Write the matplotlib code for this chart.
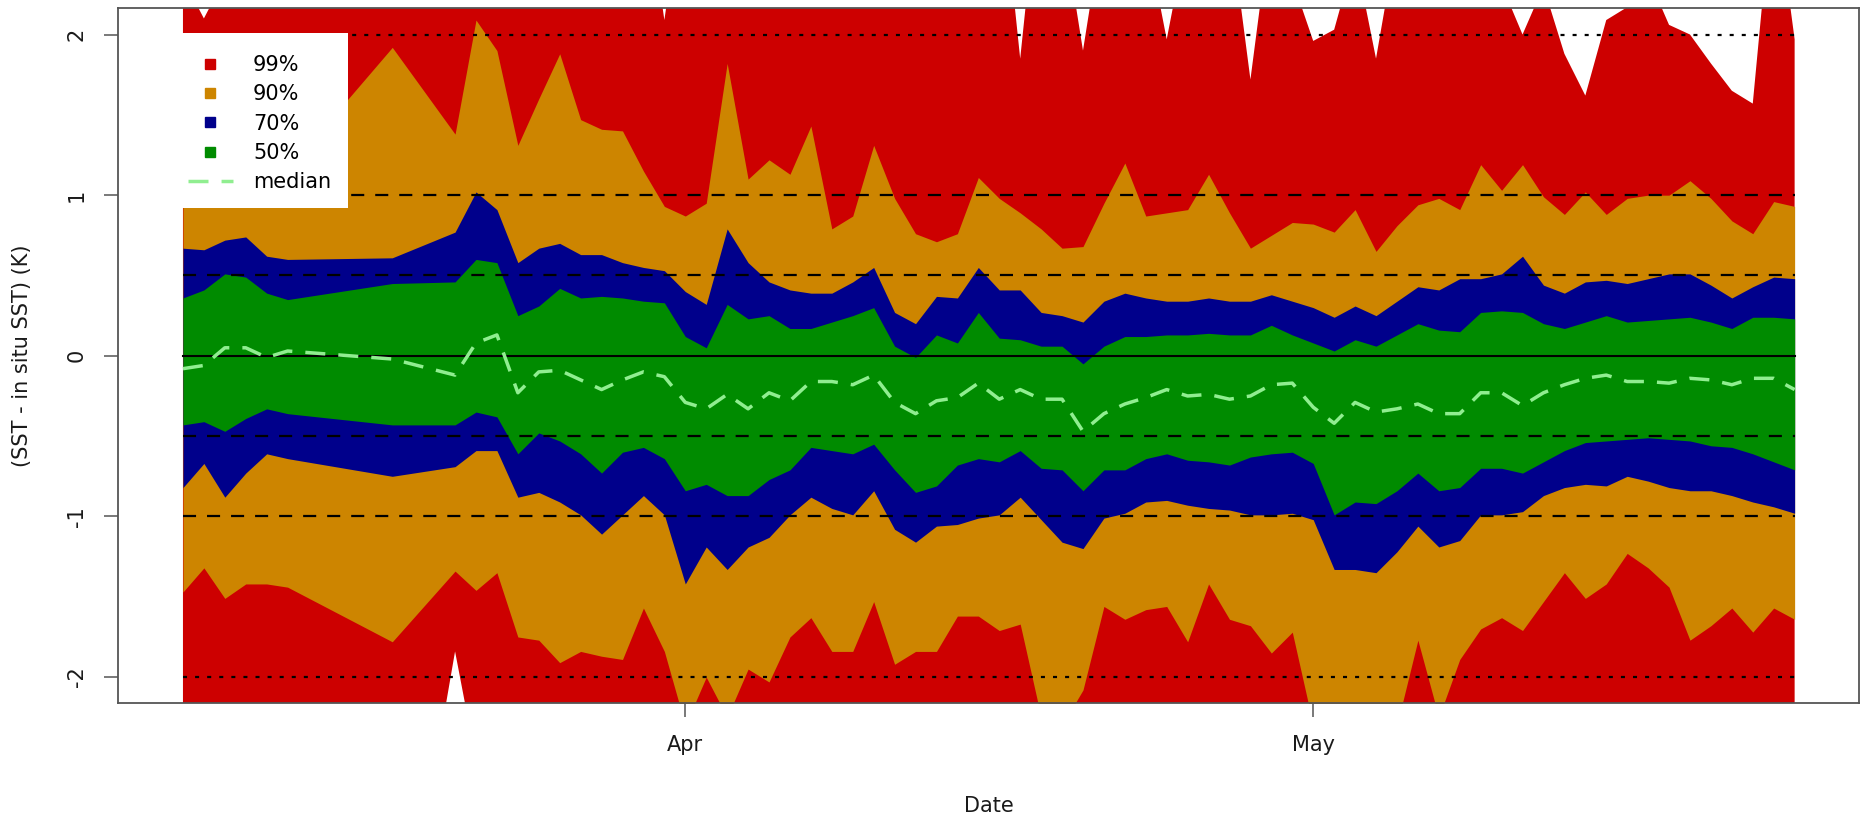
import numpy as np
import matplotlib
matplotlib.use('Agg')
import matplotlib.pyplot as plt
import matplotlib.dates as mdates
from matplotlib.lines import Line2D
from matplotlib.patches import Rectangle

plt.rcParams['font.family'] = 'DejaVu Sans'
plt.rcParams['axes.unicode_minus'] = False
plt.rcParams['lines.scale_dashes'] = False

# day offsets from 1 April
days = [-24, -23, -22, -21, -20, -19, -14, -11,
        -10, -9, -8, -7, -6, -5, -4, -3, -2, -1,
        0, 1, 2, 3, 4, 5, 6, 7, 8, 9,
        10, 11, 12, 13, 14, 15, 16, 17, 18, 19,
        20, 21, 22, 23, 24, 25, 26, 27, 28, 29,
        30, 31, 32, 33, 34, 35, 36, 37, 38, 39,
        40, 41, 42, 43, 44, 45, 46, 47, 48, 49,
        50, 51, 52, 53]

q99_hi = [2.35, 2.10, 2.35, 2.60, 2.70, 2.80, 2.90, 2.70,
          2.90, 2.80, 2.60, 2.70, 2.90, 2.60, 2.60, 2.70, 3.00, 2.09,
          3.00, 2.70, 3.00, 2.60, 2.50, 2.60, 2.80, 2.50, 2.60, 2.70,
          2.60, 2.50, 2.50, 2.60, 2.80, 3.10, 1.85, 3.10, 2.72, 1.90,
          2.72, 2.80, 2.64, 1.97, 2.64, 2.80, 2.72, 1.72, 2.72, 2.34,
          1.96, 2.03, 2.50, 1.85, 2.60, 2.60, 2.70, 2.60, 2.60, 2.31,
          2.00, 2.30, 1.88, 1.62, 2.09, 2.17, 2.36, 2.06, 2.00, 1.82,
          1.65, 1.57, 2.95, 1.97]

q99_lo = [-2.60, -2.70, -2.60, -2.80, -2.70, -2.90, -4.10, -1.84,
          -2.52, -2.60, -2.80, -2.90, -2.80, -2.70, -2.90, -2.80, -2.60, -2.80,
          -3.00, -2.80, -3.10, -2.90, -2.80, -2.70, -2.60, -2.80, -2.90, -2.70,
          -2.80, -2.90, -2.80, -2.70, -2.60, -2.70, -2.80, -3.00, -3.10, -2.90,
          -2.70, -2.80, -2.70, -2.60, -2.80, -2.60, -2.70, -2.80, -2.90, -2.80,
          -3.10, -3.20, -3.10, -3.00, -3.00, -2.80, -2.90, -2.80, -2.70, -2.60,
          -2.70, -2.60, -2.50, -2.60, -2.50, -2.40, -2.50, -2.60, -2.80, -2.70,
          -2.70, -2.80, -2.70, -2.80]

q90_hi = [1.25, 1.45, 1.50, 1.35, 1.25, 1.16, 1.92, 1.38,
          2.09, 1.90, 1.31, 1.60, 1.88, 1.47, 1.41, 1.40, 1.15, 0.93,
          0.87, 0.95, 1.82, 1.10, 1.22, 1.13, 1.43, 0.79, 0.87, 1.31,
          0.98, 0.76, 0.71, 0.76, 1.11, 0.98, 0.89, 0.79, 0.67, 0.68,
          0.95, 1.20, 0.87, 0.89, 0.91, 1.13, 0.89, 0.67, 0.75, 0.83,
          0.82, 0.77, 0.91, 0.65, 0.81, 0.94, 0.98, 0.91, 1.19, 1.03,
          1.19, 0.99, 0.88, 1.02, 0.88, 0.98, 1.00, 1.00, 1.09, 0.98,
          0.84, 0.76, 0.96, 0.93]

q90_lo = [-1.47, -1.32, -1.51, -1.42, -1.42, -1.44, -1.78, -1.34,
          -1.46, -1.35, -1.75, -1.77, -1.91, -1.84, -1.87, -1.89, -1.57, -1.84,
          -2.30, -2.00, -2.25, -1.95, -2.03, -1.75, -1.63, -1.84, -1.84, -1.53,
          -1.92, -1.84, -1.84, -1.62, -1.62, -1.71, -1.67, -2.25, -2.30, -2.08,
          -1.56, -1.64, -1.58, -1.56, -1.78, -1.42, -1.64, -1.68, -1.85, -1.72,
          -2.30, -2.35, -2.30, -2.25, -2.30, -1.77, -2.25, -1.89, -1.70, -1.63,
          -1.71, -1.53, -1.35, -1.51, -1.42, -1.23, -1.32, -1.44, -1.77, -1.68,
          -1.57, -1.72, -1.57, -1.64]

q70_hi = [0.67, 0.66, 0.72, 0.74, 0.62, 0.60, 0.61, 0.77,
          1.02, 0.91, 0.58, 0.67, 0.70, 0.63, 0.63, 0.58, 0.55, 0.53,
          0.40, 0.32, 0.79, 0.58, 0.46, 0.41, 0.39, 0.39, 0.46, 0.55,
          0.27, 0.20, 0.37, 0.36, 0.55, 0.41, 0.41, 0.27, 0.25, 0.21,
          0.34, 0.39, 0.36, 0.34, 0.34, 0.36, 0.34, 0.34, 0.38, 0.34,
          0.30, 0.24, 0.31, 0.25, 0.34, 0.43, 0.41, 0.48, 0.48, 0.51,
          0.62, 0.44, 0.39, 0.46, 0.47, 0.45, 0.48, 0.51, 0.51, 0.44,
          0.36, 0.43, 0.49, 0.48]

q70_lo = [-0.82, -0.67, -0.88, -0.73, -0.61, -0.64, -0.75, -0.69,
          -0.59, -0.59, -0.88, -0.85, -0.91, -0.99, -1.11, -0.99, -0.87, -0.99,
          -1.42, -1.19, -1.33, -1.19, -1.13, -0.99, -0.88, -0.95, -0.99, -0.84,
          -1.08, -1.16, -1.06, -1.05, -1.01, -0.99, -0.88, -1.02, -1.16, -1.20,
          -1.01, -0.98, -0.91, -0.90, -0.93, -0.95, -0.96, -0.99, -0.99, -0.98,
          -1.02, -1.33, -1.33, -1.35, -1.22, -1.06, -1.19, -1.15, -0.99, -0.99,
          -0.97, -0.87, -0.82, -0.80, -0.81, -0.75, -0.78, -0.82, -0.84, -0.84,
          -0.87, -0.91, -0.94, -0.98]

q50_hi = [0.36, 0.41, 0.51, 0.49, 0.39, 0.35, 0.45, 0.46,
          0.60, 0.58, 0.25, 0.31, 0.42, 0.36, 0.37, 0.36, 0.34, 0.33,
          0.12, 0.05, 0.32, 0.23, 0.25, 0.17, 0.17, 0.21, 0.25, 0.30,
          0.06, -0.01, 0.13, 0.08, 0.27, 0.11, 0.10, 0.06, 0.06, -0.05,
          0.06, 0.12, 0.12, 0.13, 0.13, 0.14, 0.13, 0.13, 0.19, 0.13,
          0.08, 0.03, 0.10, 0.06, 0.13, 0.20, 0.16, 0.15, 0.27, 0.28,
          0.27, 0.20, 0.17, 0.21, 0.25, 0.21, 0.22, 0.23, 0.24, 0.21,
          0.17, 0.24, 0.24, 0.23]

q50_lo = [-0.43, -0.41, -0.47, -0.39, -0.33, -0.36, -0.43, -0.43,
          -0.35, -0.38, -0.61, -0.48, -0.53, -0.61, -0.73, -0.60, -0.57, -0.64,
          -0.84, -0.80, -0.87, -0.87, -0.77, -0.71, -0.57, -0.59, -0.61, -0.55,
          -0.71, -0.85, -0.81, -0.68, -0.64, -0.66, -0.59, -0.70, -0.71, -0.84,
          -0.71, -0.71, -0.64, -0.61, -0.65, -0.66, -0.68, -0.63, -0.61, -0.60,
          -0.67, -0.99, -0.91, -0.92, -0.84, -0.73, -0.84, -0.82, -0.70, -0.70,
          -0.73, -0.66, -0.59, -0.54, -0.53, -0.52, -0.51, -0.52, -0.53, -0.56,
          -0.57, -0.61, -0.66, -0.71]

median = [-0.08, -0.06, 0.05, 0.05, -0.01, 0.03, -0.02, -0.12,
          0.08, 0.13, -0.23, -0.10, -0.09, -0.15, -0.21, -0.15, -0.10, -0.13,
          -0.29, -0.33, -0.24, -0.33, -0.23, -0.28, -0.16, -0.16, -0.18, -0.12,
          -0.29, -0.36, -0.28, -0.26, -0.17, -0.27, -0.21, -0.27, -0.27, -0.47,
          -0.36, -0.30, -0.26, -0.21, -0.25, -0.24, -0.27, -0.25, -0.18, -0.17,
          -0.32, -0.42, -0.29, -0.35, -0.33, -0.30, -0.36, -0.36, -0.23, -0.23,
          -0.31, -0.23, -0.18, -0.14, -0.12, -0.16, -0.16, -0.17, -0.14, -0.15,
          -0.18, -0.14, -0.14, -0.21]

band_labels = ['99%', '90%', '70%', '50%']
band_colors = ['#CD0000', '#CD8500', '#00008B', '#008B00']
ytick_vals = [-2, -1, 0, 1, 2]
ytick_labels = ['-2', '-1', '0', '1', '2']

x = mdates.date2num(np.datetime64('2012-04-01')) + np.array(days, dtype=float)

fig = plt.figure(figsize=(18.66, 8.16), dpi=100)
ax = fig.add_axes([0.0635, 0.1381, 0.9328, 0.8517])

bands = [(q99_lo, q99_hi), (q90_lo, q90_hi), (q70_lo, q70_hi), (q50_lo, q50_hi)]
for (lo, hi), col in zip(bands, band_colors):
    ax.fill_between(x, lo, hi, color=col, lw=0)

# reference lines over the data range
for yv in [2, -2]:
    ax.plot([x[0], x[-1]], [yv, yv], color='black', lw=1.6, dashes=(2.9, 5.8))
for yv in [1, 0.5, -0.5, -1]:
    ax.plot([x[0], x[-1]], [yv, yv], color='black', lw=1.6, dashes=(9.4, 7.9))
ax.plot([x[0], x[-1]], [0, 0], color='black', lw=1.5)

ax.plot(x, median, color='#90EE90', lw=2.5, dashes=(14.4, 9.4))

span = x[-1] - x[0]
ax.set_xlim(x[0] - 0.04 * span, x[-1] + 0.04 * span)
ax.set_ylim(-2.163, 2.163)

ax.xaxis.set_major_locator(mdates.MonthLocator())
ax.xaxis.set_major_formatter(mdates.DateFormatter('%b'))
ax.set_yticks(ytick_vals)
ax.set_yticklabels(ytick_labels, rotation=90, va='center')

for sp in ax.spines.values():
    sp.set_color('#555555')
    sp.set_linewidth(1.3)
ax.tick_params(length=10, width=1.1, color='#555555', labelsize=15, pad=13,
               labelcolor='#1a1a1a')

ax.set_xlabel('Date', fontsize=15, color='#1a1a1a', va='center')
ax.xaxis.set_label_coords(0.5, -0.1478)
ax.set_ylabel('(SST - in situ SST) (K)', fontsize=15, color='#1a1a1a', va='center')
ax.yaxis.set_label_coords(-0.0557, 0.5)

# legend: white box then entries
ax.add_patch(Rectangle((0.0365, 0.7127), 0.0954, 0.2518, transform=ax.transAxes,
                       facecolor='white', edgecolor='none', zorder=5))
handles = [Line2D([], [], marker='s', linestyle='none', color=c, markersize=7.2)
           for c in band_colors]
handles.append(Line2D([], [], color='#90EE90', lw=2.5, dashes=(14.4, 9.4)))
leg = ax.legend(handles, band_labels + ['median'], loc='upper left',
                bbox_to_anchor=(0.0399, 0.9324), frameon=False, borderpad=0,
                fontsize=15, labelspacing=0.44, handlelength=2.16,
                handletextpad=0.96, borderaxespad=0)
leg.set_zorder(6)

fig.savefig('out.png', dpi=100)
